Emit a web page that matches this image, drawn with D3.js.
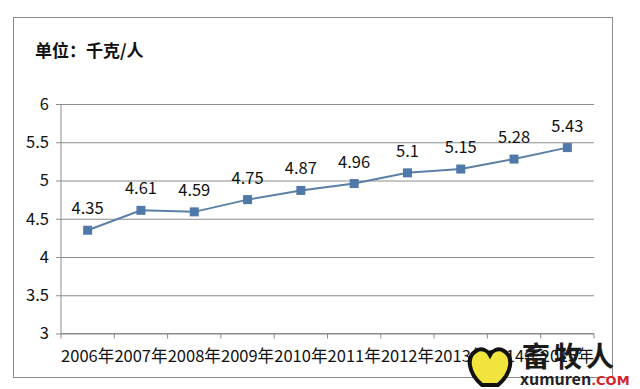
<!DOCTYPE html>
<html>
<head>
<meta charset="utf-8">
<script src="https://cdn.jsdelivr.net/npm/d3@7"></script>
<style>
  body { margin: 0; background: #fff; }
  svg text { font-family: "Noto Sans CJK SC", "Noto Sans", sans-serif; }
</style>
</head>
<body>
<svg id="chart" width="640" height="389"></svg>
<script>
const years = ["2006年","2007年","2008年","2009年","2010年","2011年","2012年","2013年","2014年","2015年"];
const values = [4.35, 4.61, 4.59, 4.75, 4.87, 4.96, 5.1, 5.15, 5.28, 5.43];
const yTicks = [3, 3.5, 4, 4.5, 5, 5.5, 6];
const title = "单位：千克/人";

const svg = d3.select("#chart");
const margin = { top: 104, right: 46, bottom: 55, left: 61 };
const width = 640 - margin.left - margin.right;
const height = 389 - margin.top - margin.bottom - 0.5;

// outer frame
svg.append("rect")
    .attr("x", 13.5).attr("y", 17.5)
    .attr("width", 599).attr("height", 360)
    .attr("fill", "none")
    .attr("stroke", "#8c8c8c");

svg.append("text")
    .attr("x", 35).attr("y", 57)
    .attr("font-size", 17)
    .attr("font-weight", "bold")
    .attr("fill", "#111")
    .text(title);

const g = svg.append("g").attr("transform", `translate(${margin.left},${margin.top})`);

const x = d3.scaleBand().domain(years).range([0, width]);
const y = d3.scaleLinear().domain([3, 6]).range([height, 0]);

// gridlines + y axis
const yAxis = g.append("g")
    .call(d3.axisLeft(y).tickValues(yTicks).tickSize(-width).tickPadding(12).tickFormat(d => d));
yAxis.select(".domain").remove();
yAxis.selectAll(".tick line").attr("stroke", "#8c8c8c").attr("x1", -5);
yAxis.selectAll(".tick text").attr("font-size", 16.5).attr("fill", "#111")
    .attr("font-family", "'Open Sans', 'Noto Sans', sans-serif");

g.append("line")
    .attr("x1", 0).attr("x2", 0).attr("y1", 0).attr("y2", height)
    .attr("stroke", "#8c8c8c");

// x axis with ticks at band edges
const xAxis = g.append("g").attr("transform", `translate(0,${height})`);
xAxis.append("line").attr("x1", 0).attr("x2", width).attr("stroke", "#8c8c8c");
xAxis.selectAll(".xt")
    .data(years.concat(["end"]))
    .enter().append("line")
    .attr("x1", (d, i) => i * x.step()).attr("x2", (d, i) => i * x.step())
    .attr("y1", 0).attr("y2", 5)
    .attr("stroke", "#8c8c8c");
xAxis.selectAll(".xl")
    .data(years)
    .enter().append("text")
    .attr("x", d => x(d) + x.bandwidth() / 2)
    .attr("y", 28)
    .attr("text-anchor", "middle")
    .attr("font-size", 16.5)
    .attr("fill", "#111")
    .text(d => d);

const cx = (d, i) => x(years[i]) + x.bandwidth() / 2;

g.append("path")
    .datum(values)
    .attr("fill", "none")
    .attr("stroke", "#5b7fa6")
    .attr("stroke-width", 2)
    .attr("d", d3.line().x(cx).y(d => y(d)));

g.selectAll(".marker")
    .data(values)
    .enter().append("rect")
    .attr("x", (d, i) => cx(d, i) - 4.5)
    .attr("y", d => y(d) - 4.5)
    .attr("width", 9).attr("height", 9)
    .attr("fill", "#4f79a8");

g.selectAll(".lbl")
    .data(values)
    .enter().append("text")
    .attr("x", cx)
    .attr("y", d => y(d) - 16)
    .attr("text-anchor", "middle")
    .attr("font-size", 16.5)
    .attr("fill", "#111")
    .attr("font-family", "'Open Sans', 'Noto Sans', sans-serif")
    .text(d => d);

// watermark
const wm = svg.append("g").attr("transform", "translate(470,345)");
wm.append("path")
    .attr("d", "M12,40 C-2,28 -4,12 6,6 C12,2 18,6 20,10 C22,6 28,2 34,6 C44,12 42,28 28,40 Z")
    .attr("fill", "#f1e43c").attr("stroke", "#111").attr("stroke-width", 4);
wm.append("text")
    .attr("x", 52).attr("y", 22)
    .attr("font-size", 28).attr("font-weight", "bold").attr("fill", "#1a1a1a")
    .attr("letter-spacing", 4)
    .text("畜牧人");
wm.append("text")
    .attr("x", 50).attr("y", 40)
    .attr("font-size", 16).attr("font-weight", "bold").attr("fill", "#222")
    .attr("font-family", "'DejaVu Serif', serif")
    .text("xumuren")
  .append("tspan").attr("fill", "#d0262b").attr("font-size", 13)
    .attr("font-family", "'DejaVu Sans', sans-serif")
    .text(".COM");
</script>
</body>
</html>
